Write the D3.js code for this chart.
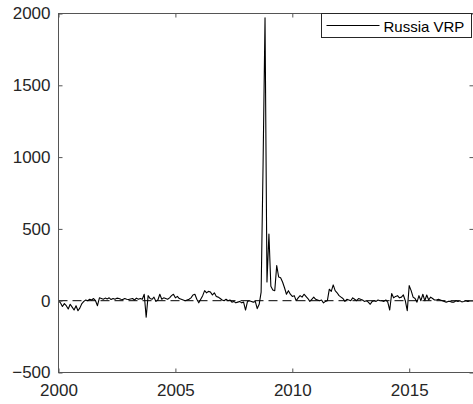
<!DOCTYPE html>
<html>
<head>
<meta charset="utf-8">
<script src="https://cdn.jsdelivr.net/npm/d3@7"></script>
<style>
  body { margin: 0; background: #fff; }
  svg { display: block; }
  text { font-family: "Liberation Sans", Arial, Helvetica, sans-serif; }
</style>
</head>
<body>
<svg id="chart" width="473" height="404"></svg>
<script>
// Monthly Russia variance risk premium, Jan 2000 onward
const startYear = 2000;
const seriesName = "Russia VRP";
const vrp = [
  // 2000
  0, -15, -40, -20, -35, -58, -25, -45, -65, -35, -70, -50,
  // 2001
  -20, -5, 5, 0, 10, 5, 15, 0, -35, 20, 15, 10,
  // 2002
  18, 12, 20, 8, 15, 10, 18, 15, 10, 8, 15, 10,
  // 2003
  8, 12, 15, 5, 18, 10, 15, 10, 45, -115, 35, 15,
  // 2004
  10, 25, -5, 5, 45, 10, 20, 15, 10, 20, 35, 45,
  // 2005
  20, 30, 15, 10, 5, 0, 5, 10, 20, 40, 45, 10,
  // 2006
  -15, 10, 35, 70, 55, 65, 60, 40, 55, 30, 25, 15,
  // 2007
  5, 0, 10, 0, 5, -10, -5, -15, -10, -5, -15, -10,
  // 2008
  -65, -5, 0, -5, -10, -5, -55, -25, 60, 950, 1970, 130,
  // 2009
  465, 100, 75, 70, 245, 165, 160, 130, 90, 45, 70, 45,
  // 2010
  30, 35, 0, 20, 35, 25, 45, 30, 15, -5, 10, 25,
  // 2011
  10, 5, 0, 5, -15, -5, 0, 80, 65, 110, 70, 55,
  // 2012
  35, 25, 15, -5, 10, 5, 0, 20, 10, 0, 15, 10,
  // 2013
  5, -5, 0, -10, -25, -5, 0, -5, 5, 0, 0, -5,
  // 2014
  5, -10, -65, 50, 20, 30, 35, 20, 25, 40, 0, -70,
  // 2015
  105, 70, 25, 15, -10, 35, 0, 45, 0, 40, 5, 25,
  // 2016
  15, 5, 5, 10, 5, 0, -5, -10, -5, -5, -10, -10,
  // 2017
  0, -5, 0, -8, -5, 0, -5, -3
];
const xTicks = [2000, 2005, 2010, 2015];
const yTicks = [-500, 0, 500, 1000, 1500, 2000];
const xDomain = [2000, 2017.75];
const yDomain = [-500, 2000];

const svg = d3.select("#chart");
const plotLeft = 58.5, plotRight = 473.5, plotTop = 13.5, plotBottom = 372.5;

const x = d3.scaleLinear().domain(xDomain).range([plotLeft, plotRight]);
const y = d3.scaleLinear().domain(yDomain).range([plotBottom, plotTop]);

const points = vrp.map((v, i) => ({ t: startYear + i / 12, v }));

svg.append("defs").append("clipPath").attr("id", "plot")
  .append("rect").attr("x", plotLeft).attr("y", plotTop)
  .attr("width", plotRight - plotLeft).attr("height", plotBottom - plotTop);

// zero reference line
svg.append("line")
  .attr("x1", x(xDomain[0])).attr("x2", x(xDomain[1]))
  .attr("y1", y(0)).attr("y2", y(0))
  .attr("stroke", "#000").attr("stroke-width", 1)
  .attr("stroke-dasharray", "9,5");

// series line
svg.append("path")
  .datum(points)
  .attr("clip-path", "url(#plot)")
  .attr("fill", "none")
  .attr("stroke", "#000")
  .attr("stroke-width", 1.1)
  .attr("stroke-linejoin", "round")
  .attr("d", d3.line().x(d => x(d.t)).y(d => y(d.v)));

const axisColor = "#262626";
const styleAxis = g => {
  g.select(".domain").remove();
  g.selectAll(".tick line").attr("stroke", "#555");
  g.selectAll(".tick text").attr("fill", axisColor).attr("font-size", 17);
};

svg.append("g").attr("transform", `translate(0,${plotBottom})`)
  .call(d3.axisBottom(x).tickValues(xTicks).tickFormat(d3.format("d"))
    .tickSizeInner(-4).tickSizeOuter(0).tickPadding(11))
  .call(styleAxis);

svg.append("g").attr("transform", `translate(0,${plotTop})`)
  .call(d3.axisTop(x).tickValues(xTicks).tickFormat("")
    .tickSizeInner(-4).tickSizeOuter(0))
  .call(styleAxis);

svg.append("g").attr("transform", `translate(${plotLeft},0)`)
  .call(d3.axisLeft(y).tickValues(yTicks).tickFormat(d3.format("d"))
    .tickSizeInner(-4).tickSizeOuter(0).tickPadding(8))
  .call(styleAxis);

svg.append("g").attr("transform", `translate(${plotRight},0)`)
  .call(d3.axisRight(y).tickValues(yTicks).tickFormat("")
    .tickSizeInner(-4).tickSizeOuter(0))
  .call(styleAxis);

// axes box
svg.append("rect")
  .attr("x", plotLeft).attr("y", plotTop)
  .attr("width", plotRight - plotLeft).attr("height", plotBottom - plotTop)
  .attr("fill", "none").attr("stroke", "#555").attr("stroke-width", 1);

// legend
const lg = svg.append("g").attr("transform", "translate(321.5,13.5)");
lg.append("rect").attr("width", 150).attr("height", 24)
  .attr("fill", "#fff").attr("stroke", axisColor).attr("stroke-width", 1);
lg.append("line").attr("x1", 5).attr("x2", 58).attr("y1", 12).attr("y2", 12)
  .attr("stroke", "#000").attr("stroke-width", 1);
lg.append("text").attr("x", 62).attr("y", 18)
  .attr("font-size", 15).attr("fill", "#000").text(seriesName);
</script>
</body>
</html>
